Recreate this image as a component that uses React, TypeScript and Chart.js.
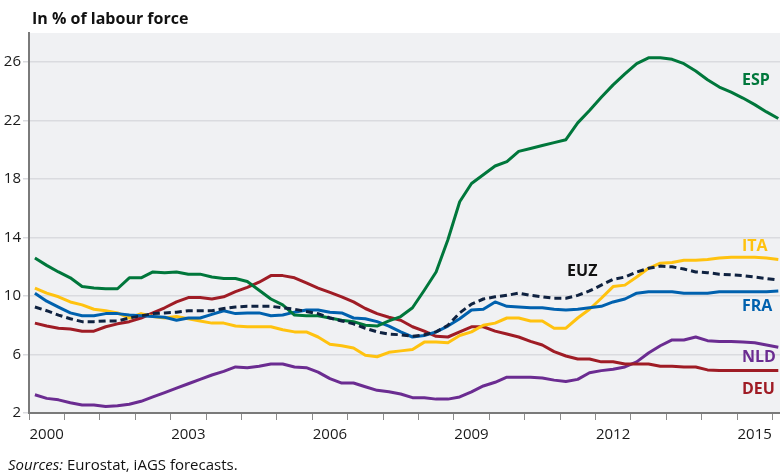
import React, { useEffect, useRef } from "react";
import { Chart, registerables } from "chart.js";

Chart.register(...registerables);

// Quarterly periods 2000Q1 .. 2015Q4
const years = [2000, 2001, 2002, 2003, 2004, 2005, 2006, 2007, 2008, 2009, 2010, 2011, 2012, 2013, 2014, 2015];
const quarters: string[] = [];
for (const yr of years) for (let q = 1; q <= 4; q++) quarters.push(`${yr}Q${q}`);

const esp = [
  12.6, 12.1, 11.65, 11.25, 10.65, 10.55, 10.5, 10.5, 11.25, 11.25, 11.65, 11.6, 11.65, 11.5, 11.5, 11.3,
  11.2, 11.2, 11.0, 10.4, 9.8, 9.4, 8.7, 8.65, 8.65, 8.5, 8.35, 8.25, 8.0, 7.95, 8.3, 8.6,
  9.2, 10.4, 11.65, 13.85, 16.45, 17.7, 18.3, 18.9, 19.2, 19.9, 20.1, 20.3, 20.5, 20.7, 21.85, 22.7,
  23.6, 24.45, 25.2, 25.9, 26.3, 26.3, 26.2, 25.9, 25.4, 24.8, 24.3, 23.95, 23.55, 23.1, 22.6, 22.15,
];
const ita = [
  10.55, 10.2, 9.95, 9.6, 9.4, 9.1, 9.0, 8.85, 8.5, 8.8, 8.6, 8.5, 8.6, 8.45, 8.3, 8.15,
  8.15, 7.95, 7.9, 7.9, 7.9, 7.7, 7.55, 7.55, 7.2, 6.7, 6.6, 6.45, 5.95, 5.85, 6.15, 6.25,
  6.35, 6.85, 6.85, 6.8, 7.3, 7.55, 8.0, 8.15, 8.5, 8.5, 8.3, 8.3, 7.8, 7.8, 8.5, 9.1,
  9.85, 10.65, 10.75, 11.3, 11.9, 12.25, 12.3, 12.45, 12.45, 12.5, 12.6, 12.65, 12.65, 12.65, 12.6, 12.5,
];
const euz = [
  9.25, 9.0, 8.7, 8.45, 8.25, 8.25, 8.3, 8.3, 8.5, 8.65, 8.8, 8.85, 8.9, 9.0, 9.0, 9.0,
  9.15, 9.25, 9.3, 9.3, 9.3, 9.2, 9.1, 8.95, 8.8, 8.5, 8.3, 8.1, 7.8, 7.55, 7.4, 7.35,
  7.25, 7.35, 7.55, 8.0, 8.85, 9.45, 9.8, 9.95, 10.05, 10.2, 10.05, 9.95, 9.85, 9.85, 10.05, 10.35,
  10.75, 11.15, 11.3, 11.65, 11.9, 12.05, 12.0, 11.85, 11.65, 11.6, 11.5, 11.45, 11.4, 11.3, 11.2, 11.1,
];
const fra = [
  10.2, 9.65, 9.25, 8.85, 8.65, 8.65, 8.8, 8.8, 8.7, 8.65, 8.6, 8.55, 8.35, 8.5, 8.5, 8.75,
  9.0, 8.8, 8.85, 8.85, 8.65, 8.7, 8.9, 9.05, 9.05, 8.9, 8.85, 8.5, 8.45, 8.25, 7.95, 7.55,
  7.2, 7.3, 7.55, 7.95, 8.45, 9.05, 9.1, 9.6, 9.3, 9.25, 9.2, 9.2, 9.1, 9.05, 9.1, 9.2,
  9.3, 9.6, 9.8, 10.2, 10.3, 10.3, 10.3, 10.2, 10.2, 10.2, 10.3, 10.3, 10.3, 10.3, 10.3, 10.35,
];
const nld = [
  3.25, 3.0, 2.9, 2.7, 2.55, 2.55, 2.45, 2.5, 2.6, 2.8, 3.1, 3.4, 3.7, 4.0, 4.3, 4.6,
  4.85, 5.15, 5.1, 5.2, 5.35, 5.35, 5.15, 5.1, 4.8, 4.35, 4.05, 4.05, 3.8, 3.55, 3.45, 3.3,
  3.05, 3.05, 2.95, 2.95, 3.1, 3.45, 3.85, 4.1, 4.45, 4.45, 4.45, 4.4, 4.25, 4.15, 4.3, 4.75,
  4.9, 5.0, 5.15, 5.5, 6.1, 6.6, 7.0, 7.0, 7.2, 6.95, 6.9, 6.9, 6.85, 6.8, 6.65, 6.5,
];
const deu = [
  8.15, 7.95, 7.8, 7.75, 7.6, 7.6, 7.9, 8.1, 8.25, 8.5, 8.85, 9.2, 9.6, 9.9, 9.9, 9.8,
  9.95, 10.3, 10.6, 10.95, 11.4, 11.4, 11.25, 10.9, 10.55, 10.25, 9.95, 9.6, 9.15, 8.8, 8.55, 8.35,
  7.9, 7.6, 7.25, 7.2, 7.55, 7.9, 7.9, 7.6, 7.4, 7.2, 6.9, 6.65, 6.2, 5.9, 5.7, 5.7,
  5.5, 5.5, 5.35, 5.35, 5.35, 5.2, 5.2, 5.15, 5.15, 4.95, 4.9, 4.9, 4.9, 4.9, 4.9, 4.9,
];

const yTickValues = [2, 6, 10, 14, 18, 22, 26];
const xLabelYears = [2000, 2003, 2006, 2009, 2012, 2015];
// tick marks every three quarters, starting at the left axis
const xTickValues: number[] = [];
for (let k = 0; k <= 21; k++) xTickValues.push(-0.5 + 3 * k);

const seriesNames = ["EUZ", "ESP", "FRA", "ITA", "DEU", "NLD"];
const seriesColors = ["#0f2240", "#00773b", "#0061ae", "#ffc20f", "#9f1c25", "#6b2c91"];
const seriesLabelColors = ["#111111", "#00773b", "#0061ae", "#ffc20f", "#9f1c25", "#6b2c91"];
// label anchor (quarter index, value at text baseline)
const labelX = [45.1, 59.92, 59.92, 59.92, 59.92, 59.92];
const labelY = [11.37, 24.43, 8.98, 13.08, 3.3, 5.49];

const seriesValues = [euz, esp, fra, ita, deu, nld];

const FONT = '"Open Sans", "Noto Sans", sans-serif';

export default function App() {
  const ref = useRef<HTMLCanvasElement | null>(null);

  useEffect(() => {
    if (!ref.current) return;
    const bgPlugin = {
      id: "plotBg",
      beforeDraw(chart: any) {
        const { ctx, chartArea } = chart;
        ctx.save();
        ctx.fillStyle = "#f0f1f3";
        ctx.fillRect(chartArea.left, chartArea.top, chartArea.right - chartArea.left, chartArea.bottom - chartArea.top);
        ctx.restore();
      },
    };
    const labelPlugin = {
      id: "lineLabels",
      afterDatasetsDraw(chart: any) {
        const { ctx } = chart;
        const xs = chart.scales.x;
        const ys = chart.scales.y;
        ctx.save();
        ctx.font = `bold 16px ${FONT}`;
        ctx.textAlign = "left";
        ctx.textBaseline = "alphabetic";
        seriesNames.forEach((name, i) => {
          ctx.fillStyle = seriesLabelColors[i];
          ctx.fillText(name, xs.getPixelForValue(labelX[i]), ys.getPixelForValue(labelY[i]));
        });
        ctx.restore();
      },
    };

    const chart = new Chart(ref.current, {
      type: "line",
      data: {
        labels: quarters,
        datasets: seriesNames.map((name, i) => ({
          label: name,
          data: seriesValues[i].map((v, j) => ({ x: j, y: v })),
          borderColor: seriesColors[i],
          backgroundColor: seriesColors[i],
          borderWidth: 3,
          borderDash: name === "EUZ" ? [7, 4] : [],
          pointRadius: 0,
          tension: 0,
          fill: false,
        })),
      },
      options: {
        animation: false,
        responsive: false,
        devicePixelRatio: 1,
        layout: { padding: { top: 33, left: 0, right: 0, bottom: 0 } },
        plugins: {
          legend: { display: false },
          tooltip: { enabled: false },
        },
        elements: { line: { borderJoinStyle: "round", borderCapStyle: "butt" } },
        scales: {
          x: {
            type: "linear",
            min: -0.5,
            max: 63.144,
            afterBuildTicks: (s: any) => {
              s.ticks = xTickValues.map((v) => ({ value: v }));
            },
            afterFit: (s: any) => {
              s.height = 61;
            },
            grid: { drawOnChartArea: false, drawTicks: true, tickLength: 7, color: "#8c8c8c", lineWidth: 1 },
            border: { display: true, color: "#7a7a7a", width: 2 },
            ticks: {
              autoSkip: false,
              maxRotation: 0,
              minRotation: 0,
              padding: 6,
              labelOffset: 17.7,
              color: "#1a1a1a",
              font: { family: FONT, size: 15 },
              callback: (_v: any, idx: number) => (idx % 4 === 0 ? String(xLabelYears[idx / 4]) : ""),
            },
          },
          y: {
            type: "linear",
            min: 2,
            max: 28,
            afterBuildTicks: (s: any) => {
              s.ticks = yTickValues.map((v) => ({ value: v }));
            },
            afterFit: (s: any) => {
              s.width = 29;
            },
            grid: { color: "#dadbdf", lineWidth: 1.5, tickLength: 6, drawTicks: true },
            border: { display: true, color: "#7a7a7a", width: 2 },
            ticks: {
              padding: 2,
              color: "#1a1a1a",
              font: { family: FONT, size: 15 },
            },
          },
        },
      },
      plugins: [bgPlugin, labelPlugin],
    } as any);
    return () => chart.destroy();
  }, []);

  return (
    <div style={{ position: "absolute", left: 0, top: 0, width: 780, height: 474, background: "#fff" }}>
      <canvas ref={ref} width={780} height={474} style={{ display: "block", width: 780, height: 474 }} />
      <div
        style={{
          position: "absolute",
          left: 32,
          top: 10,
          fontFamily: FONT,
          fontWeight: 700,
          fontSize: 16,
          lineHeight: "16px",
          color: "#111",
          whiteSpace: "nowrap",
        }}
      >
        In % of labour force
      </div>
      <div
        style={{
          position: "absolute",
          left: 8,
          top: 457,
          fontFamily: FONT,
          fontSize: 15,
          lineHeight: "15px",
          color: "#111",
          whiteSpace: "nowrap",
        }}
      >
        <i>Sources:</i> Eurostat, iAGS forecasts.
      </div>
    </div>
  );
}
